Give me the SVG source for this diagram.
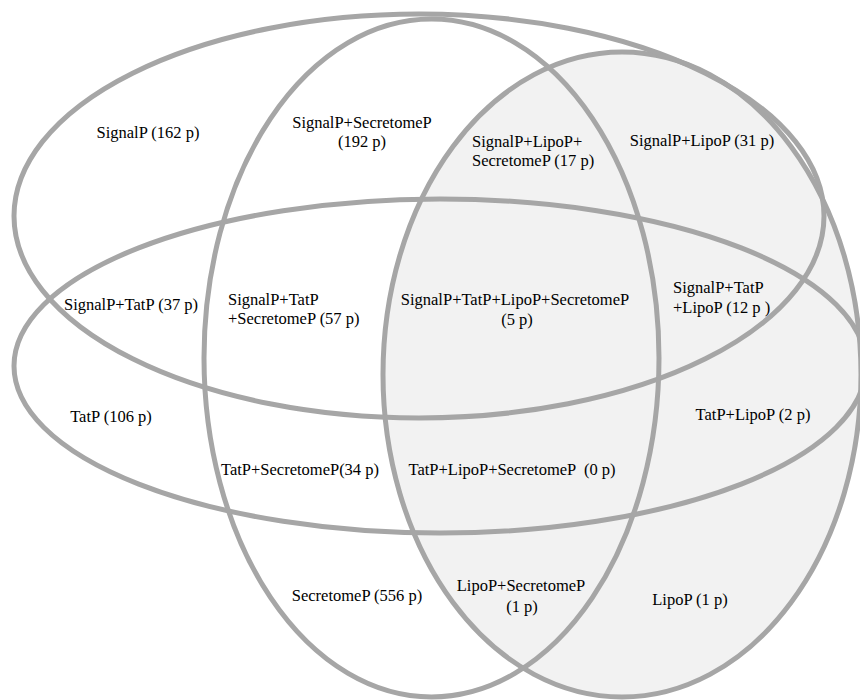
<svg xmlns="http://www.w3.org/2000/svg" width="860" height="700" viewBox="0 0 860 700">
  <style>
    .set { fill: none; stroke: #a6a6a6; stroke-width: 5; }
    .lipo { fill: #f2f2f2; }
    .lbl { font-family: "Liberation Serif", "Times New Roman", serif; font-size: 16.5px; fill: #000; }
    .c { text-anchor: middle; }
  </style>
  <rect x="0" y="0" width="860" height="700" fill="#ffffff"/>
  <g id="sets">
    <g id="set-lipop"><ellipse class="set lipo" cx="622" cy="374.5" rx="239" ry="322.5"/></g>
    <g id="set-signalp"><ellipse class="set" cx="419" cy="216" rx="405" ry="202"/></g>
    <g id="set-tatp"><ellipse class="set" cx="440" cy="366" rx="426" ry="167"/></g>
    <g id="set-secretomep"><ellipse class="set" cx="431.5" cy="358" rx="227.5" ry="339"/></g>
  </g>
  <g id="labels" class="lbl">
    <g id="r-signalp"><text class="c" x="148" y="138">SignalP (162 p)</text></g>
    <g id="r-signalp-secretomep"><text class="c" x="362" y="128">SignalP+SecretomeP</text><text class="c" x="362" y="147">(192 p)</text></g>
    <g id="r-signalp-lipop-secretomep"><text x="472" y="147">SignalP+LipoP+</text><text x="472" y="166">SecretomeP (17 p)</text></g>
    <g id="r-signalp-lipop"><text class="c" x="702" y="146">SignalP+LipoP (31 p)</text></g>
    <g id="r-signalp-tatp"><text class="c" x="131" y="310">SignalP+TatP (37 p)</text></g>
    <g id="r-signalp-tatp-secretomep"><text x="228" y="305">SignalP+TatP</text><text x="228" y="324">+SecretomeP (57 p)</text></g>
    <g id="r-all"><text class="c" x="515" y="305">SignalP+TatP+LipoP+SecretomeP</text><text class="c" x="517" y="325">(5 p)</text></g>
    <g id="r-signalp-tatp-lipop"><text x="673" y="293">SignalP+TatP</text><text x="673" y="313">+LipoP (12 p )</text></g>
    <g id="r-tatp"><text class="c" x="111" y="422">TatP (106 p)</text></g>
    <g id="r-tatp-secretomep"><text class="c" x="300" y="475">TatP+SecretomeP(34 p)</text></g>
    <g id="r-tatp-lipop-secretomep"><text class="c" x="512" y="475" xml:space="preserve">TatP+LipoP+SecretomeP  (0 p)</text></g>
    <g id="r-tatp-lipop"><text class="c" x="753" y="420">TatP+LipoP (2 p)</text></g>
    <g id="r-secretomep"><text class="c" x="357" y="601">SecretomeP (556 p)</text></g>
    <g id="r-lipop-secretomep"><text class="c" x="521" y="591">LipoP+SecretomeP</text><text class="c" x="522" y="612">(1 p)</text></g>
    <g id="r-lipop"><text class="c" x="690" y="605">LipoP (1 p)</text></g>
  </g>
</svg>
